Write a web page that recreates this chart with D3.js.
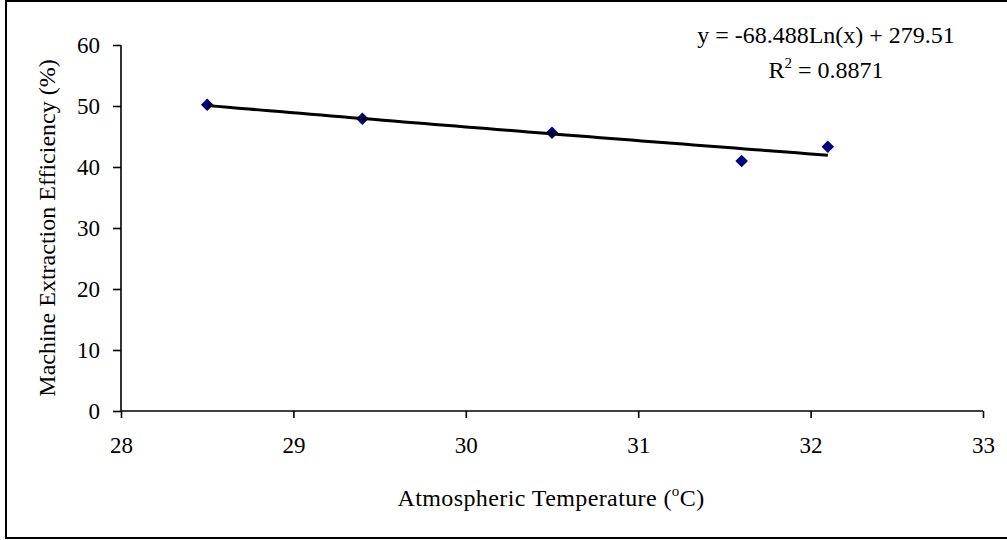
<!DOCTYPE html>
<html>
<head>
<meta charset="utf-8">
<script src="https://cdn.jsdelivr.net/npm/d3@7"></script>
<style>
  html, body { margin: 0; padding: 0; background: #fff; }
  svg { display: block; }
  text { font-family: "Liberation Serif", "Times New Roman", serif; fill: #000; }
</style>
</head>
<body>
<svg id="chart" width="1007" height="540"></svg>
<script>
// ---- data ----
const temperature = [28.5, 29.4, 30.5, 31.6, 32.1];
const efficiency  = [50.2, 47.9, 45.6, 41.0, 43.3];
const xTickValues = [28, 29, 30, 31, 32, 33];
const yTickValues = [0, 10, 20, 30, 40, 50, 60];
const trendA = -68.488;   // y = a*ln(x) + b
const trendB = 279.51;
const trendR2 = "0.8871";
const xTitle = "Atmospheric Temperature (";
const yTitle = "Machine Extraction Efficiency (%)";

// ---- layout ----
const svg = d3.select("#chart");
const fsTick = 23, fsTitle = 24;
const serif = "'Liberation Serif', 'Times New Roman', serif";
const plot = { left: 121, right: 983, top: 45, bottom: 411 };

svg.append("rect")
  .attr("x", 6).attr("y", 1).attr("width", 1010).attr("height", 537)
  .attr("fill", "#fff").attr("stroke", "#000").attr("stroke-width", 2);

const x = d3.scaleLinear().domain([28, 33]).range([plot.left, plot.right]);
const y = d3.scaleLinear().domain([0, 60]).range([plot.bottom, plot.top]);

// axes
const xAxis = d3.axisBottom(x).tickValues(xTickValues).tickSize(7).tickPadding(19).tickFormat(d3.format("d"));
const yAxis = d3.axisLeft(y).tickValues(yTickValues).tickSize(8).tickPadding(13).tickFormat(d3.format("d"));

const gx = svg.append("g").attr("transform", `translate(0,${plot.bottom})`).call(xAxis);
const gy = svg.append("g").attr("transform", `translate(${plot.left},0)`).call(yAxis);
[gx, gy].forEach(g => {
  g.attr("font-family", serif).attr("font-size", fsTick);
  g.select(".domain").attr("stroke", "#000").attr("stroke-width", 1.6);
  g.selectAll(".tick line").attr("stroke", "#000").attr("stroke-width", 1.6);
  g.selectAll(".tick text").attr("fill", "#000")
    .style("font-family", serif).style("font-size", fsTick + "px");
});
gx.select(".domain").attr("d", `M${plot.left},0H${plot.right}`);
gy.select(".domain").attr("d", `M0,${plot.bottom}V${plot.top}`);
gy.selectAll(".tick text").attr("dy", "0.34em");

// axis titles
const xt = svg.append("text")
  .attr("x", 551).attr("y", 506)
  .attr("text-anchor", "middle")
  .style("font-family", serif).style("font-size", fsTitle + "px")
  .style("letter-spacing", "0.4px");
xt.append("tspan").text(xTitle);
xt.append("tspan").attr("dy", -10).style("font-size", "15px").text("o");
xt.append("tspan").attr("dy", 10).text("C)");

svg.append("text")
  .attr("transform", `translate(55,228) rotate(-90)`)
  .attr("text-anchor", "middle")
  .style("font-family", serif).style("font-size", fsTitle + "px")
  .text(yTitle);

// markers
const diamond = d3.symbol().type(d3.symbolSquare).size(78);
svg.append("g").selectAll("path")
  .data(temperature.map((t, i) => [t, efficiency[i]]))
  .join("path")
  .attr("d", diamond)
  .attr("transform", d => `translate(${x(d[0])},${y(d[1])}) rotate(45)`)
  .attr("fill", "#000080");

// trendline
const xMin = d3.min(temperature), xMax = d3.max(temperature);
const trendPts = d3.range(0, 61).map(i => {
  const t = xMin + (xMax - xMin) * i / 60;
  return [t, trendA * Math.log(t) + trendB];
});
svg.append("path")
  .datum(trendPts)
  .attr("d", d3.line().x(d => x(d[0])).y(d => y(d[1])))
  .attr("fill", "none").attr("stroke", "#000").attr("stroke-width", 3);

// equation
const eqX = 826;
svg.append("text").attr("x", eqX).attr("y", 43).attr("text-anchor", "middle")
  .style("font-family", serif).style("font-size", fsTitle + "px")
  .text(`y = ${trendA}Ln(x) + ${trendB}`);
const r2 = svg.append("text").attr("x", eqX).attr("y", 78).attr("text-anchor", "middle")
  .style("font-family", serif).style("font-size", fsTitle + "px");
r2.append("tspan").text("R");
r2.append("tspan").attr("dy", -10).style("font-size", "15px").text("2");
r2.append("tspan").attr("dy", 10).text(` = ${trendR2}`);
</script>
</body>
</html>
